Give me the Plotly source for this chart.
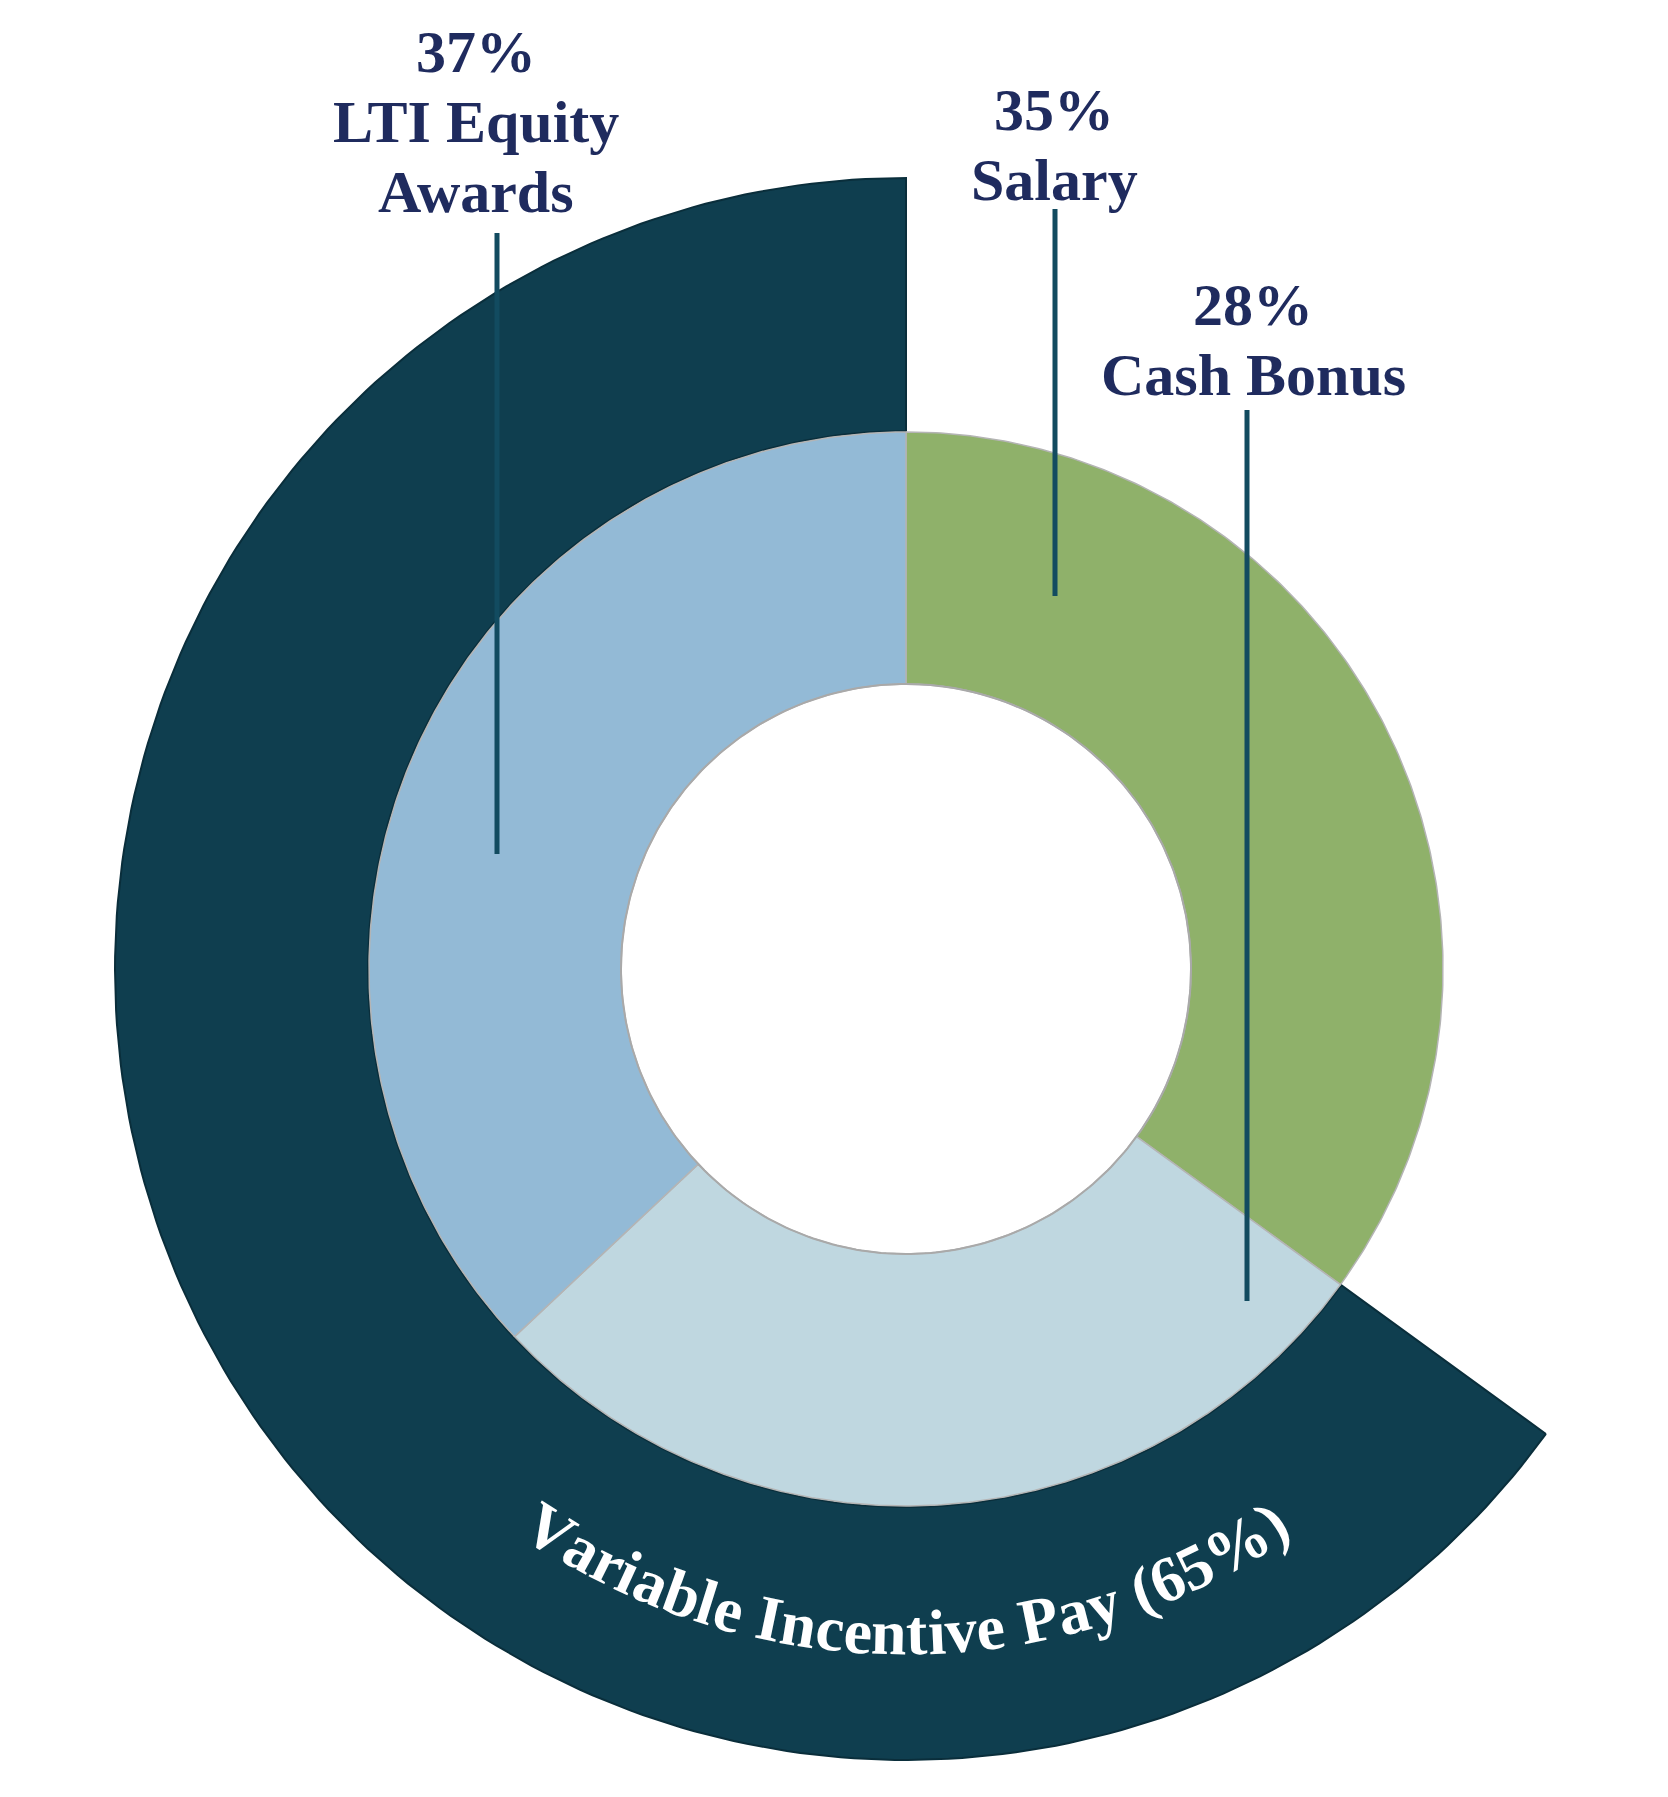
import numpy as np
import plotly.graph_objects as go

# ---------------- data ----------------
categories = ["Salary", "Cash Bonus", "LTI Equity Awards"]
values = [35, 28, 37]
name_lines = [["Salary"], ["Cash Bonus"], ["LTI Equity", "Awards"]]

outer_categories = ["Fixed Pay", "Variable Incentive Pay"]
outer_values = [35, 65]

# ---------------- styling / layout ----------------
W, H = 1668, 1797
CX, CY = 906, 969            # pixel position of the donut centre
R_HOLE, R_IN = 285, 537      # inner donut radii (px)
R_O0, R_O1 = 538, 791        # outer ring radii (px)

inner_colors = ["#8fb16a", "#bfd7e0", "#93bad6"]
ring_color = "#0f3e4f"
label_color = "#1f2b5e"
leader_color = "#124b60"
FONT = "Liberation Serif"

# label placement (pixel coords): centre x, first baseline y
label_pos = [(1054, 130), (1253, 325), (476, 72)]
line_step = 70
label_fs = 60
# leader lines: x, y_top, y_bottom (pixel coords)
leaders = [(1055, 209, 596), (1247, 410, 1301), (497, 233, 854)]


def dx(px):
    return px - CX


def dy(py):
    return CY - py


def sector(a0, a1, r0, r1, n=240):
    t = np.radians(np.linspace(a0, a1, n))
    xo, yo = r1 * np.sin(t), r1 * np.cos(t)
    ti = t[::-1]
    xi, yi = r0 * np.sin(ti), r0 * np.cos(ti)
    x = np.concatenate([xo, xi, xo[:1]])
    y = np.concatenate([yo, yi, yo[:1]])
    return x, y


fig = go.Figure()

# outer ring (only the variable-pay part is drawn)
tot_o = sum(outer_values)
start = 360.0 * outer_values[0] / tot_o
x, y = sector(start, 360.0, R_O0, R_O1)
fig.add_trace(go.Scatter(
    x=x, y=y, mode="lines", fill="toself", fillcolor=ring_color,
    line=dict(color="#0a2e3b", width=2),
    name=outer_categories[1], hoverinfo="name"))

# inner donut
tot = sum(values)
cum = 0.0
for cat, v, col in zip(categories, values, inner_colors):
    a0 = 360.0 * cum / tot
    a1 = 360.0 * (cum + v) / tot
    cum += v
    x, y = sector(a0, a1, R_HOLE, R_IN)
    fig.add_trace(go.Scatter(
        x=x, y=y, mode="lines", fill="toself", fillcolor=col,
        line=dict(color="#b4b4b4", width=1.5),
        name=cat, hoverinfo="name"))

# hole outline
t = np.radians(np.linspace(0, 360, 361))
fig.add_trace(go.Scatter(x=R_HOLE * np.sin(t), y=R_HOLE * np.cos(t), mode="lines",
                         line=dict(color="#a9a9a9", width=2), hoverinfo="skip"))

annotations = []
shapes = []

# labels + leader lines
for v, lines, (lx, ly), (ex, ey0, ey1) in zip(values, name_lines, label_pos, leaders):
    all_lines = [f"{v}%"] + lines
    for i, txt in enumerate(all_lines):
        base = ly + i * line_step
        annotations.append(dict(
            x=dx(lx), y=dy(base - 0.34 * label_fs), xref="x", yref="y",
            text=txt, showarrow=False, xanchor="center", yanchor="middle",
            font=dict(family=FONT, size=label_fs, color=label_color, weight="bold")))
    shapes.append(dict(type="line", xref="x", yref="y",
                       x0=dx(ex), x1=dx(ex), y0=dy(ey0), y1=dy(ey1),
                       line=dict(color=leader_color, width=5)))

# curved text along the bottom of the outer ring
curved = f"{outer_categories[1]} ({outer_values[1]}%)"
widths = {"V": .722, "a": .5, "r": .444, "i": .278, "b": .556, "l": .278, "e": .444,
          " ": .25, "I": .389, "n": .556, "c": .444, "t": .333, "v": .5, "P": .611,
          "y": .5, "(": .333, "6": .5, "5": .5, "%": 1.0, ")": .333}
cfs = 64
r_adv = 676
r_txt = 664
adv = np.array([widths.get(ch, .5) * cfs for ch in curved])
total = adv.sum()
centers = np.cumsum(adv) - adv / 2 - total / 2
for ch, s in zip(curved, centers):
    if ch == " ":
        continue
    phi = s / r_adv  # radians, 0 at bottom, positive to the right
    annotations.append(dict(
        x=r_txt * np.sin(phi), y=-r_txt * np.cos(phi), xref="x", yref="y",
        text=ch, showarrow=False, xanchor="center", yanchor="middle",
        textangle=-np.degrees(phi),
        font=dict(family=FONT, size=cfs, color="white", weight="bold")))

fig.update_layout(
    width=W, height=H, autosize=False,
    margin=dict(l=0, r=0, t=0, b=0),
    paper_bgcolor="white", plot_bgcolor="white",
    showlegend=False,
    xaxis=dict(range=[-CX, W - CX], visible=False, fixedrange=True),
    yaxis=dict(range=[CY - H, CY], visible=False, fixedrange=True),
    annotations=annotations, shapes=shapes,
)

fig.write_html("out.html")
